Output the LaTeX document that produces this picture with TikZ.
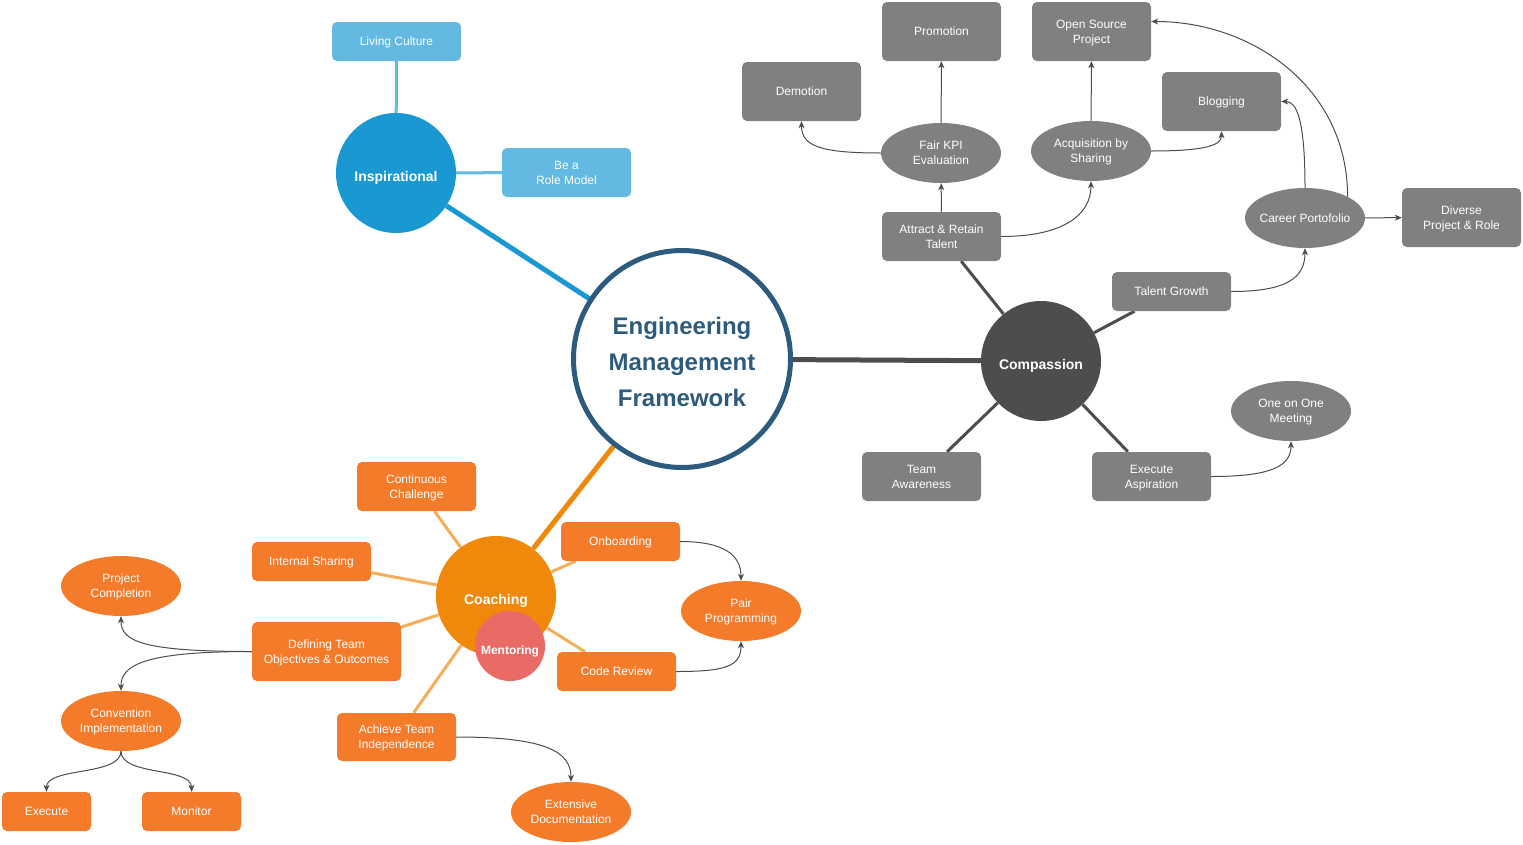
\documentclass[tikz,border=0pt]{standalone}
\usepackage{fontspec}
\setmainfont{Liberation Sans}
\usepackage{tikz}
\usetikzlibrary{arrows.meta, shapes, backgrounds, calc}
\pgfdeclarelayer{background}
\pgfsetlayers{background,main}

\definecolor{cNavy}{HTML}{2D5B7E}
\definecolor{cBlue}{HTML}{1A98D2}
\definecolor{cLBlue}{HTML}{63B9E1}
\definecolor{cDark}{HTML}{4D4D4D}
\definecolor{cGray}{HTML}{808080}
\definecolor{cCoach}{HTML}{F0880A}
\definecolor{cOrange}{HTML}{F47B2A}
\definecolor{cLOrange}{HTML}{F5AE5A}
\definecolor{cMentor}{HTML}{EA6B66}

\begin{document}
\begin{tikzpicture}[x=1pt, y=-1pt]

    % Canvas
    \useasboundingbox (0,0) rectangle (1523,844);

    % Main topics
    \tikzset{nM/.style={circle, inner sep = 0pt, minimum size = 120pt, text height = 16pt, text depth = 0pt, text = white, font = \fontsize{14}{17}\selectfont\bfseries}}
    \tikzset{nEMF/.style={circle, draw = cNavy, line width = 5pt, fill = white, minimum size = 217pt, align = center, text = cNavy, font = \fontsize{24}{36}\selectfont\bfseries}}

    % Labelled nodes
    \tikzset{nB/.style={rounded corners = 5pt, inner sep = 2pt, minimum width = 119pt, minimum height = 39pt, text depth = 0pt, align = center, text = white, font = \fontsize{12}{15}\selectfont}}
    \tikzset{nE/.style={ellipse, inner sep = 0pt, minimum width = 120pt, minimum height = 60pt, text depth = 0pt, align = center, text = white, font = \fontsize{12}{15}\selectfont}}

    % Branches
    \tikzset{Bm/.style={line width = 5pt}}
    \tikzset{Bs/.style={line width = 3pt}}
    \tikzset{pA/.style={draw = cDark, line width = 1pt, -{Stealth[length = 7pt, width = 6pt, inset = 2pt]}}}

    % Centre
    \node (emf) [nEMF] at (682, 359) {\rule{0pt}{23pt}Engineering\\Management\\Framework};

    % Inspirational
    \node (insp) [nM, fill = cBlue] at (396, 173) {Inspirational};
    	\node (living) [nB, fill = cLBlue, minimum width = 129pt] at (396.5, 41.5) {Living Culture};
    	\node (rolemodel) [nB, fill = cLBlue, minimum width = 129pt, minimum height = 49pt] at (566.5, 172.5) {Be a\\Role Model};

    % Compassion
    \node (comp) [nM, fill = cDark] at (1041, 361) {Compassion};
    	\node (attract) [nB, fill = cGray, minimum height = 49pt] at (941.5, 236.5) {Attract \& Retain\\Talent};
    		\node (fkpi) [nE, fill = cGray] at (941, 153) {Fair KPI\\Evaluation};
    			\node (prom) [nB, fill = cGray, minimum height = 59pt] at (941.5, 31.5) {Promotion};
    			\node (dem) [nB, fill = cGray, minimum height = 59pt] at (801.5, 91.5) {Demotion};
    		\node (acq) [nE, fill = cGray] at (1091, 151) {Acquisition by\\Sharing};
    			\node (osp) [nB, fill = cGray, minimum height = 59pt] at (1091.5, 31.5) {Open Source\\Project};
    			\node (blog) [nB, fill = cGray, minimum height = 59pt] at (1221.5, 101.5) {Blogging};
    	\node (talent) [nB, fill = cGray] at (1171.5, 291.5) {Talent Growth};
    		\node (career) [nE, fill = cGray, inner xsep = -12pt] at (1305, 218) {Career Portofolio};
    			\node (diverse) [nB, fill = cGray, minimum height = 59pt] at (1461.5, 217.5) {Diverse\\Project \& Role};
    	\node (team) [nB, fill = cGray, minimum height = 49pt] at (921.5, 476.5) {Team\\Awareness};
    	\node (execasp) [nB, fill = cGray, minimum height = 49pt] at (1151.5, 476.5) {Execute\\Aspiration};
    		\node (oneone) [nE, fill = cGray] at (1291, 411) {One on One\\Meeting};

    % Coaching
    \node (coach) [nM, fill = cCoach] at (496, 596) {Coaching};
    \node (mentor) [circle, fill = cMentor, inner sep = 0pt, minimum size = 70pt, text height = 16pt, text depth = 0pt, text = white, font = \fontsize{12}{15}\selectfont\bfseries] at (510, 646) {Mentoring};
    	\node (contch) [nB, fill = cOrange, minimum height = 49pt] at (416.5, 486.5) {Continuous\\Challenge};
    	\node (intsh) [nB, fill = cOrange] at (311.5, 561.5) {Internal Sharing};
    	\node (defobj) [nB, fill = cOrange, minimum width = 149pt, minimum height = 59pt] at (326.5, 651.5) {Defining Team\\Objectives \& Outcomes};
    		\node (projc) [nE, fill = cOrange] at (121, 586) {Project\\Completion};
    		\node (conv) [nE, fill = cOrange] at (121, 721) {Convention\\Implementation};
    			\node (execute) [nB, fill = cOrange, minimum width = 89pt] at (46.5, 811.5) {Execute};
    			\node (monitor) [nB, fill = cOrange, minimum width = 99pt] at (191.5, 811.5) {Monitor};
    	\node (achieve) [nB, fill = cOrange, minimum height = 48pt] at (396.5, 737) {Achieve Team\\Independence};
    		\node (extdoc) [nE, fill = cOrange] at (571, 812) {Extensive\\Documentation};
    	\node (onb) [nB, fill = cOrange] at (620.5, 541.5) {Onboarding};
    	\node (codrev) [nB, fill = cOrange] at (616.5, 671.5) {Code Review};
    		\node (pair) [nE, fill = cOrange] at (741, 611) {Pair\\Programming};

    % Background image
    \begin{pgfonlayer}{background}

    	% Main branches
    	\path[Bm, draw = cBlue] (insp) -- (emf);
    	\path[Bm, draw = cDark] (emf) -- (comp);
    	\path[Bm, draw = cCoach] (emf) -- (coach);

    	% Sub branches
    	\path[Bs, draw = cLBlue] (insp) -- (living);
    	\path[Bs, draw = cLBlue] (insp) -- (rolemodel);
    	\path[Bs, draw = cDark] (comp) -- (attract);
    	\path[Bs, draw = cDark] (comp) -- (talent);
    	\path[Bs, draw = cDark] (comp) -- (team);
    	\path[Bs, draw = cDark] (comp) -- (execasp);
    	\path[Bs, draw = cLOrange] (coach) -- (contch);
    	\path[Bs, draw = cLOrange] (coach) -- (intsh);
    	\path[Bs, draw = cLOrange] (coach) -- (defobj);
    	\path[Bs, draw = cLOrange] (coach) -- (achieve);
    	\path[Bs, draw = cLOrange] (coach) -- (onb);
    	\path[Bs, draw = cLOrange] (coach) -- (codrev);

    \end{pgfonlayer}

    % Arrows
    \path[pA] (attract) -- (fkpi);
    \path[pA] (fkpi) -- (prom);
    \path[pA] (fkpi.west) .. controls +(-60,0) and +(0,25) .. (dem.south);
    \path[pA] (attract.east) .. controls +(60,0) and +(0,35) .. (acq.south);
    \path[pA] (acq) -- (osp);
    \path[pA] (acq.east) .. controls +(50,0) and +(0,15) .. (blog.south);
    \path[pA] (talent.east) .. controls +(55,0) and +(0,30) .. (career.south);
    \path[pA] (career.north) .. controls +(0,-70) and +(15,0) .. (blog.east);
    \path[pA] (career.north east) .. controls +(0,-110) and +(100,0) .. ($(osp.east)+(0,-10)$);
    \path[pA] (career) -- (diverse);
    \path[pA] (execasp.east) .. controls +(60,0) and +(0,25) .. (oneone.south);
    \path[pA] (onb.east) .. controls +(45,0) and +(0,-25) .. (pair.north);
    \path[pA] (codrev.east) .. controls +(50,0) and +(0,25) .. (pair.south);
    \path[pA] (achieve.east) .. controls +(90,0) and +(0,-30) .. (extdoc.north);
    \path[pA] (defobj.west) .. controls +(-110,0) and +(0,25) .. (projc.south);
    \path[pA] (defobj.west) .. controls +(-110,0) and +(0,-25) .. (conv.north);
    \path[pA] (conv.south) .. controls +(0,25) and +(0,-25) .. (execute.north);
    \path[pA] (conv.south) .. controls +(0,25) and +(0,-25) .. (monitor.north);

\end{tikzpicture}
\end{document}
